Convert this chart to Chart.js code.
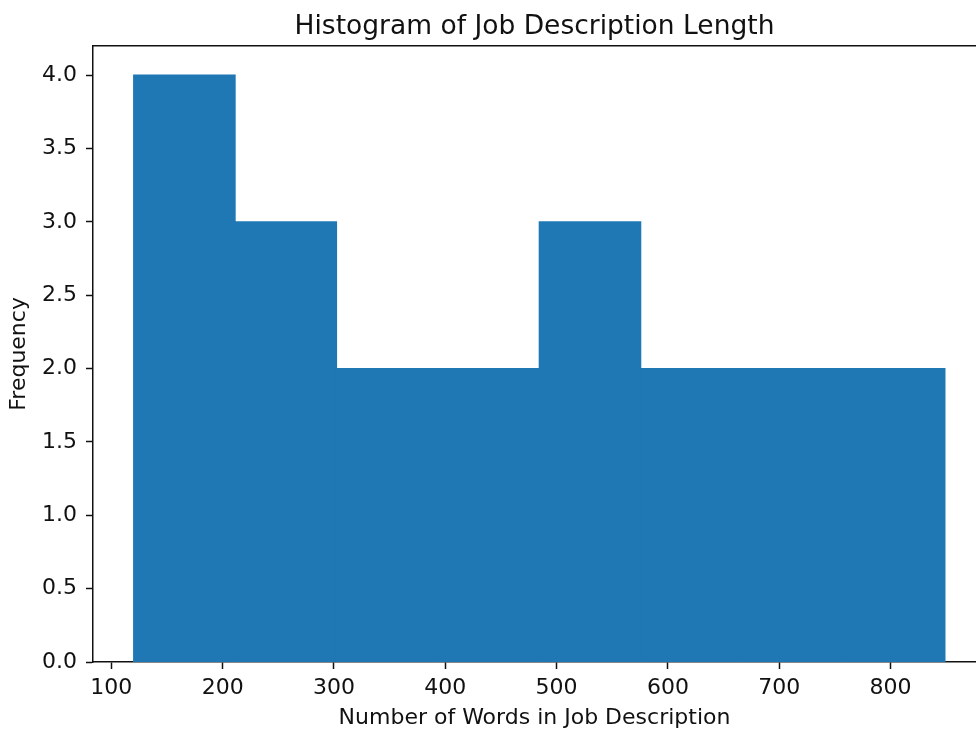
<!DOCTYPE html>
<html lang="en">

<head>
    <meta charset="UTF-8">
    <title>Histogram of Job Description Length</title>
    <script src="https://cdn.jsdelivr.net/npm/chart.js"></script>
    <style>
        body { margin: 0; background: #fff; }
    </style>
</head>

<body>

    <canvas id="chartHist" width="976" height="731"></canvas>

    <script>
        // bin centres (words) and counts
        const binCenters = [165.6, 256.7, 347.8, 438.9, 530.0, 621.1, 712.2, 803.3];
        const counts = [4, 3, 2, 2, 3, 2, 2, 2];
        const xTicks = [100, 200, 300, 400, 500, 600, 700, 800];
        const yTicks = [0, 0.5, 1.0, 1.5, 2.0, 2.5, 3.0, 3.5, 4.0];

        const FONT = 'DejaVu Sans';
        const INK = '#111';

        // matplotlib style top spine
        const topSpine = {
            id: 'topSpine',
            afterDraw(chart) {
                const { ctx, chartArea } = chart;
                ctx.save();
                ctx.strokeStyle = INK;
                ctx.lineWidth = 1.5;
                ctx.beginPath();
                ctx.moveTo(chartArea.left, chartArea.top);
                ctx.lineTo(chartArea.right, chartArea.top);
                ctx.stroke();
                ctx.restore();
            }
        };

        new Chart(document.getElementById('chartHist').getContext('2d'), {
            type: 'bar',
            data: {
                datasets: [{
                    label: 'Frequency',
                    data: binCenters.map((x, i) => ({ x: x, y: counts[i] })),
                    backgroundColor: '#1f77b4',
                    borderWidth: 0,
                    inflateAmount: 0.6,
                    barPercentage: 1,
                    categoryPercentage: 1
                }]
            },
            options: {
                responsive: false,
                animation: false,
                devicePixelRatio: 1,
                layout: { padding: 0 },
                plugins: {
                    legend: { display: false },
                    tooltip: { enabled: false },
                    title: {
                        display: true,
                        fullSize: false,
                        text: 'Histogram of Job Description Length',
                        color: INK,
                        font: { family: FONT, size: 26.5, weight: 'normal' },
                        padding: { top: 11, bottom: 3 }
                    }
                },
                scales: {
                    x: {
                        type: 'linear',
                        offset: false,
                        min: 83.5,
                        max: 876.8,
                        afterBuildTicks: s => { s.ticks = xTicks.map(v => ({ value: v })); },
                        afterFit: s => { s.height = 69; },
                        grid: { offset: false, drawOnChartArea: false, drawTicks: true, tickLength: 7, tickWidth: 1.5, tickColor: INK },
                        border: { display: true, color: INK, width: 1.5 },
                        ticks: {
                            color: INK,
                            padding: 6,
                            maxRotation: 0,
                            font: { family: FONT, size: 22 }
                        },
                        title: {
                            display: true,
                            text: 'Number of Words in Job Description',
                            color: INK,
                            font: { family: FONT, size: 22 },
                            padding: { top: 0, bottom: 0 }
                        }
                    },
                    y: {
                        min: 0,
                        max: 4.2,
                        afterBuildTicks: s => { s.ticks = yTicks.map(v => ({ value: v })); },
                        afterFit: s => { s.width = 93; },
                        grid: { drawOnChartArea: false, drawTicks: true, tickLength: 7, tickWidth: 1.5, tickColor: INK },
                        border: { display: true, color: INK, width: 1.5 },
                        ticks: {
                            color: INK,
                            padding: 9,
                            font: { family: FONT, size: 22 },
                            callback: v => v.toFixed(1)
                        },
                        title: {
                            display: true,
                            text: 'Frequency',
                            color: INK,
                            font: { family: FONT, size: 22 },
                            padding: { top: 6, bottom: 0 }
                        }
                    }
                }
            },
            plugins: [topSpine]
        });
    </script>

</body>

</html>
